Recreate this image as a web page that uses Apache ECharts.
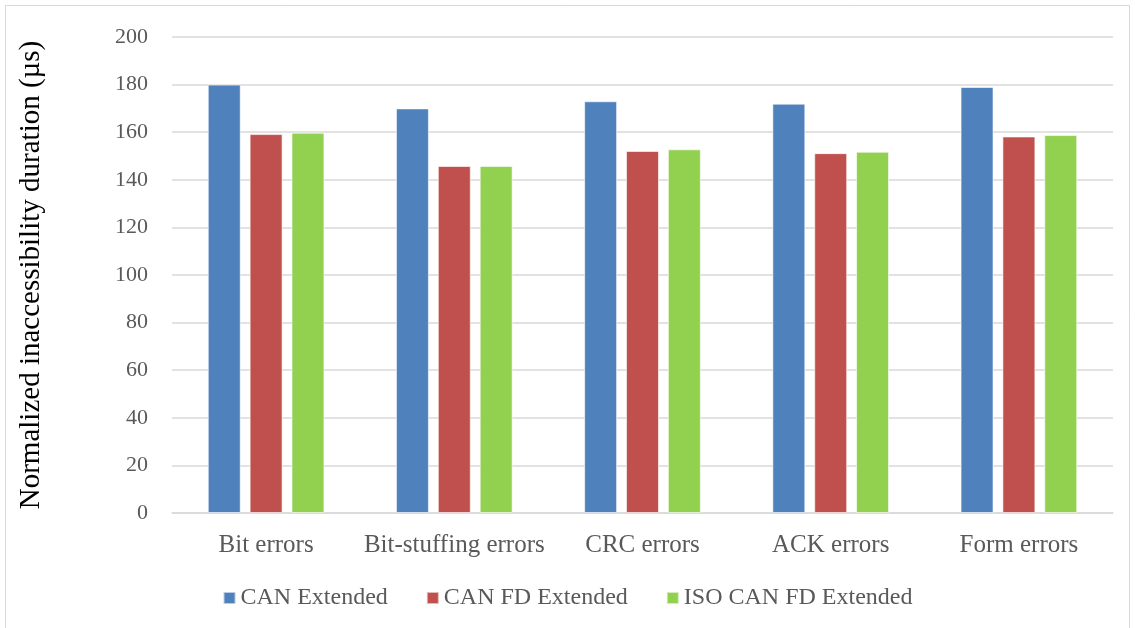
<!DOCTYPE html>
<html>
<head>
<meta charset="utf-8">
<script src="https://cdn.jsdelivr.net/npm/echarts@6/dist/echarts.min.js"></script>
<style>
  html, body { margin: 0; padding: 0; background: #fff; }
  #chart { width: 1135px; height: 628px; }
</style>
</head>
<body>
<div id="chart"></div>
<script>
// Error categories along the x axis
const categories = ['Bit errors', 'Bit-stuffing errors', 'CRC errors', 'ACK errors', 'Form errors'];

// Normalized inaccessibility duration per protocol variant (µs)
const canExtended = [180, 170, 173, 172, 179];
const canFdExtended = [159.2, 145.8, 152.1, 151.2, 158.2];
const isoCanFdExtended = [159.8, 145.8, 152.8, 151.8, 158.8];

const seriesNames = ['CAN Extended', 'CAN FD Extended', 'ISO CAN FD Extended'];
const seriesColors = ['#4F81BD', '#C0504D', '#92D050'];

const yMin = 0, yMax = 200, yStep = 20;

const fontFamily = '"Liberation Serif", "DejaVu Serif", serif';

const chart = echarts.init(document.getElementById('chart'), null, { renderer: 'canvas' });

const seriesData = [canExtended, canFdExtended, isoCanFdExtended];

chart.setOption({
  animation: false,
  backgroundColor: '#ffffff',
  textStyle: { fontFamily: fontFamily },
  graphic: [{
    type: 'rect',
    shape: { x: 5.5, y: 5.5, width: 1124, height: 640 },
    style: { fill: 'none', stroke: '#d9d9d9', lineWidth: 1 },
    silent: true
  }],
  grid: { left: 172, right: 22, top: 37, bottom: 115, containLabel: false },
  legend: {
    top: 581,
    left: 'center',
    itemWidth: 12,
    itemHeight: 12,
    itemGap: 38,
    icon: 'rect',
    textStyle: { fontFamily: fontFamily, fontSize: 24, color: '#595959' },
    data: seriesNames
  },
  xAxis: {
    type: 'category',
    data: categories,
    axisLine: { show: true, lineStyle: { color: '#d9d9d9', width: 1.5 } },
    axisTick: { show: false },
    axisLabel: { fontFamily: fontFamily, fontSize: 25, color: '#595959', margin: 20, interval: 0 }
  },
  yAxis: {
    type: 'value',
    min: yMin,
    max: yMax,
    interval: yStep,
    name: 'Normalized inaccessibility duration (µs)',
    nameLocation: 'middle',
    nameGap: 126,
    nameTextStyle: { fontFamily: fontFamily, fontSize: 29, color: '#000000' },
    axisLine: { show: false },
    axisTick: { show: false },
    axisLabel: { fontFamily: fontFamily, fontSize: 22, color: '#595959', margin: 24 },
    splitLine: { lineStyle: { color: '#d9d9d9', width: 1.5 } }
  },
  series: seriesNames.map((name, i) => ({
    name: name,
    type: 'bar',
    data: seriesData[i],
    barGap: '27%',
    barCategoryGap: '38%',
    itemStyle: { color: seriesColors[i], borderColor: 'rgba(255,255,255,0.6)', borderWidth: 1 }
  }))
});
</script>
</body>
</html>
